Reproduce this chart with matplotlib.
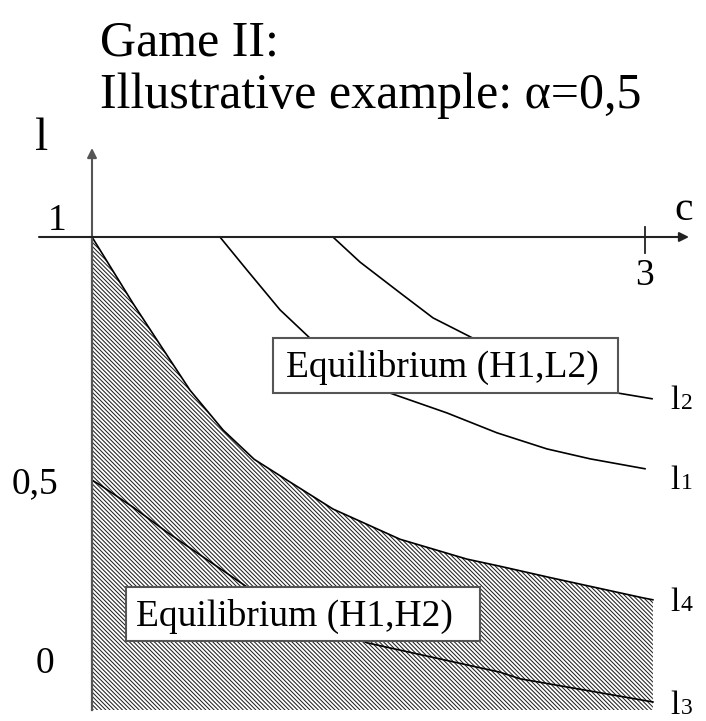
import matplotlib
matplotlib.use("Agg")
import matplotlib.pyplot as plt
from matplotlib.patches import Rectangle

plt.rcParams['font.family'] = ['Liberation Serif', 'DejaVu Serif']
plt.rcParams['hatch.color'] = '#222222'
plt.rcParams['hatch.linewidth'] = 0.75

W, H = 706, 721

# ---- data (c, l) ----
c4 = [0, 0.222, 0.353, 0.532, 0.711, 0.880, 1.058, 1.307, 1.671, 2.034, 2.213, 2.485, 2.99, 3.043]
l4 = [1.0, 0.860, 0.782, 0.676, 0.592, 0.530, 0.486, 0.425, 0.361, 0.319, 0.304, 0.280, 0.237, 0.233]

c3 = [0, 0.043, 0.222, 0.407, 0.586, 0.841, 1.492, 2.213, 2.322, 3.043]
l3 = [0.486, 0.476, 0.429, 0.376, 0.328, 0.260, 0.142, 0.080, 0.066, 0.017]

c2 = [1.307, 1.454, 1.671, 1.850, 2.067, 2.854, 3.038]
l2 = [1.0, 0.947, 0.882, 0.829, 0.786, 0.670, 0.658]

c1 = [0.694, 0.841, 1.020, 1.183, 1.617, 1.926, 2.197, 2.468, 2.702, 3.0]
l1 = [1.0, 0.930, 0.846, 0.786, 0.670, 0.628, 0.586, 0.552, 0.531, 0.510]

x_ticks = [3]
x_tick_labels = ["3"]
y_ticks = [1, 0.5, 0]
y_tick_labels = ["1", "0,5", "0"]

# ---- layout: pixel mapping ----
X0, XPU = 92, 184.33      # pixel x of c=0, px per unit c
Y1, YPU = 237, 473.0      # pixel y of l=1, px per unit l

def px2c(x):
    return (x - X0) / XPU

def py2l(y):
    return 1 - (y - Y1) / YPU

fig = plt.figure(figsize=(W / 100, H / 100), dpi=100)
ax = fig.add_axes([0, 0, 1, 1])
ax.set_xlim(px2c(0), px2c(W))
ax.set_ylim(py2l(H), py2l(0))
ax.axis('off')

# hatched region
ax.fill_between(c4, l4, 0, facecolor='white', edgecolor=None, linewidth=0,
                hatch='\\' * 8, zorder=1)
ax.plot(c4, l4, color='black', lw=1.2, zorder=3)
ax.plot(c3, l3, color='black', lw=1.2, zorder=3)
ax.plot(c2, l2, color='black', lw=1.2, zorder=3)
ax.plot(c1, l1, color='black', lw=1.2, zorder=3)

# axes
ax.plot([0, 0], [0, 1], color='#555555', lw=1.6, zorder=4)
ax.annotate('', xy=(0, py2l(148)), xytext=(0, 1),
            arrowprops=dict(arrowstyle='-|>', color='#555555', lw=1.5,
                            mutation_scale=14, shrinkA=0, shrinkB=0), zorder=4)
ax.annotate('', xy=(px2c(689), 1), xytext=(px2c(39), 1),
            arrowprops=dict(arrowstyle='-|>', color='#222222', lw=1.5,
                            mutation_scale=14, shrinkA=0, shrinkB=0), zorder=4)
# tick at c=3
ax.plot([x_ticks[0], x_ticks[0]], [py2l(227), py2l(253)], color='#222222', lw=1.3, zorder=4)

FS_T = 27
ax.text(x_ticks[0], py2l(276), x_tick_labels[0], fontsize=FS_T, ha='center', va='center')
ax.text(px2c(57), py2l(221), y_tick_labels[0], fontsize=FS_T, ha='center', va='center')
ax.text(px2c(35), py2l(484), y_tick_labels[1], fontsize=FS_T, ha='center', va='center')
ax.text(px2c(45), py2l(664), y_tick_labels[2], fontsize=FS_T, ha='center', va='center')

ax.text(px2c(684), py2l(220), "c", fontsize=30, ha='center', va='baseline')
ax.text(px2c(42), py2l(150), "l", fontsize=34, ha='center', va='baseline')

# title
fig.text(100 / W, 1 - 55 / H, "Game II:", fontsize=36, ha='left', va='baseline')
fig.text(100 / W, 1 - 108 / H, "Illustrative example: \u03b1=0,5", fontsize=36,
         ha='left', va='baseline')

# boxes
def box(x0, y0, x1, y1, text, tx):
    r = Rectangle((px2c(x0), py2l(y1)), px2c(x1) - px2c(x0), py2l(y0) - py2l(y1),
                  facecolor='white', edgecolor='#555555', lw=1.5, zorder=5)
    ax.add_patch(r)
    ax.text(px2c(tx), py2l((y0 + y1) / 2 + 2), text, fontsize=27, ha='left',
            va='center', zorder=6)

box(273, 338, 618, 393, "Equilibrium (H1,L2)", 286)
box(126, 587, 480, 641, "Equilibrium (H1,H2)", 136)

# curve labels
def clabel(x, y, digit):
    ax.text(px2c(x), py2l(y), "l", fontsize=24, ha='left', va='baseline')
    ax.text(px2c(x + 11), py2l(y), digit, fontsize=17, ha='left', va='baseline')

clabel(670, 409, "2")
clabel(670, 489, "1")
clabel(670, 611, "4")
clabel(670, 714, "3")

fig.savefig("out.png", dpi=100)
